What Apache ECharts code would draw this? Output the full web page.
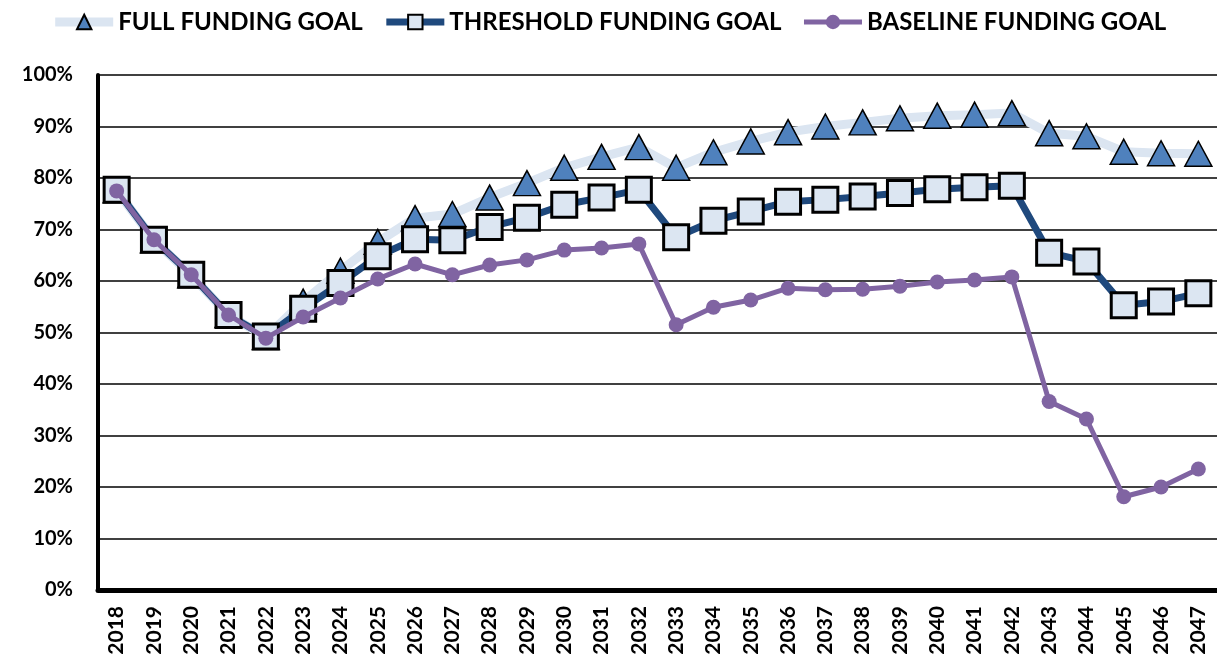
<!DOCTYPE html>
<html>
<head>
<meta charset="utf-8">
<script src="https://cdn.jsdelivr.net/npm/echarts@6/dist/echarts.min.js"></script>
<style>
  html, body { margin: 0; padding: 0; background: #fff; }
  #chart { width: 1217px; height: 665px; }
</style>
</head>
<body>
<div id="chart"></div>
<script>
// years on the x axis
var years = ['2018','2019','2020','2021','2022','2023','2024','2025','2026','2027',
  '2028','2029','2030','2031','2032','2033','2034','2035','2036','2037',
  '2038','2039','2040','2041','2042','2043','2044','2045','2046','2047'];

// funded ratio, %
var fullGoal = [77.6, 67.9, 61.1, 53.4, 49.1, 56.0, 62.0, 67.6, 72.2, 73.0,
  76.2, 79.0, 82.0, 84.1, 86.0, 82.0, 85.0, 87.1, 88.9, 90.0,
  90.8, 91.6, 92.1, 92.3, 92.6, 88.7, 88.1, 85.1, 84.8, 84.7];
var thresholdGoal = [77.7, 68.0, 61.2, 53.4, 49.2, 54.6, 59.6, 64.8, 68.1, 67.9,
  70.5, 72.3, 74.8, 76.2, 77.7, 68.5, 71.7, 73.5, 75.4, 75.8,
  76.4, 77.1, 77.8, 78.2, 78.5, 65.5, 63.8, 55.3, 56.0, 57.6];
var baselineGoal = [77.5, 68.0, 61.2, 53.4, 48.9, 53.0, 56.7, 60.4, 63.3, 61.2,
  63.1, 64.1, 66.0, 66.4, 67.2, 51.5, 54.9, 56.3, 58.6, 58.3,
  58.4, 59.0, 59.8, 60.2, 60.8, 36.6, 33.2, 18.1, 20.0, 23.5];

var seriesNames = ['FULL FUNDING GOAL', 'THRESHOLD FUNDING GOAL', 'BASELINE FUNDING GOAL'];

var fontFamily = 'Lato';

var chart = echarts.init(document.getElementById('chart'));

var option = {
  backgroundColor: '#fff',
  animation: false,
  legend: {
    top: 5,
    left: 'center',
    itemWidth: 58,
    itemHeight: 18,
    itemGap: 20,
    lineStyle: { width: 'inherit' },
    textStyle: { fontFamily: fontFamily, fontWeight: 'bold', fontSize: 24, color: '#000' },
    data: seriesNames
  },
  grid: { left: 98, right: 0, top: 75, bottom: 75, containLabel: false },
  xAxis: {
    type: 'category',
    data: years,
    boundaryGap: true,
    axisLine: { lineStyle: { color: '#000', width: 5 } },
    axisTick: { show: false },
    axisLabel: {
      interval: 0, rotate: 90, margin: 16,
      fontFamily: fontFamily, fontWeight: 'bold', fontSize: 21, color: '#000'
    }
  },
  yAxis: {
    type: 'value',
    min: 0, max: 100, interval: 10,
    axisLine: { show: true, lineStyle: { color: '#000', width: 4 } },
    axisTick: { show: false },
    axisLabel: {
      formatter: '{value}%', margin: 25,
      fontFamily: fontFamily, fontWeight: 'bold', fontSize: 20, color: '#000'
    },
    splitLine: { lineStyle: { color: '#000', width: 1.5 } }
  },
  series: [
    {
      name: seriesNames[0],
      type: 'line',
      data: fullGoal,
      z: 1,
      symbol: 'triangle',
      symbolSize: [27, 25],
      lineStyle: { color: '#dbe5f1', width: 9 },
      itemStyle: { color: '#4f81bd', borderColor: '#000', borderWidth: 1.5 }
    },
    {
      name: seriesNames[1],
      type: 'line',
      data: thresholdGoal,
      z: 2,
      symbol: 'rect',
      symbolSize: 25,
      lineStyle: { color: '#1f497d', width: 7 },
      itemStyle: { color: '#dce6f2', borderColor: '#000', borderWidth: 3 }
    },
    {
      name: seriesNames[2],
      type: 'line',
      data: baselineGoal,
      z: 3,
      symbol: 'circle',
      symbolSize: 15,
      lineStyle: { color: '#8064a2', width: 5 },
      itemStyle: { color: '#8064a2', borderWidth: 0 }
    }
  ]
};

chart.setOption(option);
</script>
</body>
</html>
